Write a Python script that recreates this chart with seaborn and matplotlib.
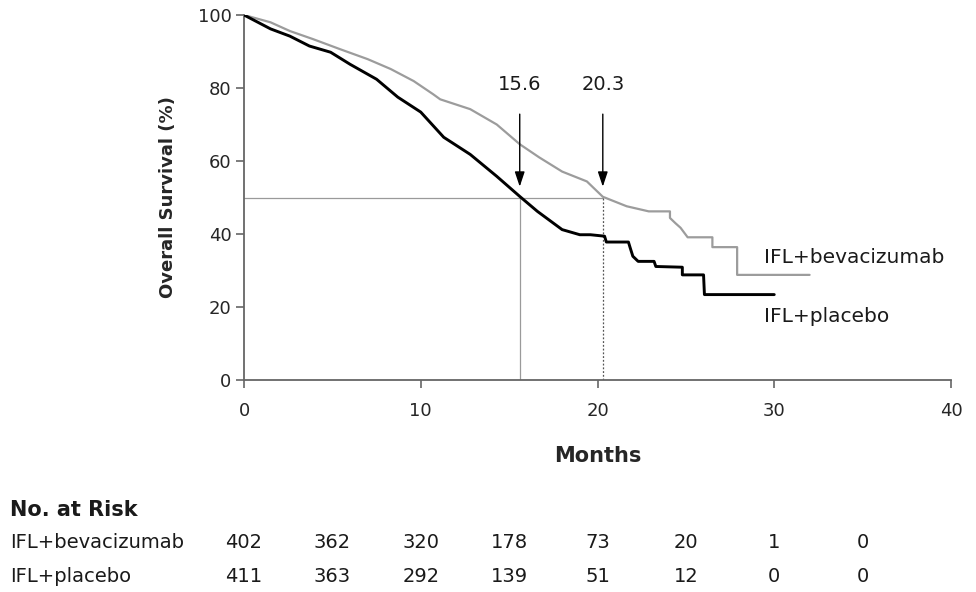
import matplotlib
matplotlib.use("Agg")
import matplotlib.pyplot as plt
import matplotlib.transforms as mtransforms
import seaborn as sns
import pandas as pd

# Kaplan-Meier estimates (repeated x = vertical step)
months_bev = [0, 1.5, 2.6, 3.9, 5.4, 7.0, 8.3, 9.6, 10.7, 11.1, 12.8, 14.3, 15.6,
              16.7, 18.0, 19.4, 20.3, 21.65, 22.9, 24.1, 24.1, 24.4, 24.7, 25.1,
              26.5, 26.5, 27.9, 27.9, 32.0]
surv_bev = [100, 98.0, 95.6, 93.4, 90.7, 87.9, 85.2, 81.9, 78.3, 76.9, 74.2, 70.0,
            64.6, 61.0, 57.1, 54.4, 50.2, 47.6, 46.2, 46.2, 44.4, 43.0, 41.7, 39.1,
            39.1, 36.4, 36.4, 28.8, 28.8]

months_pla = [0, 1.5, 2.6, 3.7, 4.9, 6.0, 7.5, 8.7, 10.0, 11.3, 12.8, 14.3, 15.6,
              16.6, 18.0, 19.0, 19.6, 20.4, 20.5, 21.75, 21.85, 22.0, 22.3, 23.2,
              23.3, 24.8, 24.8, 26.0, 26.05, 30.0]
surv_pla = [100, 96.2, 94.2, 91.5, 89.8, 86.5, 82.4, 77.5, 73.4, 66.5, 61.8, 55.8,
            50.3, 46.2, 41.2, 39.8, 39.8, 39.4, 37.8, 37.8, 36.2, 33.9, 32.5, 32.5,
            31.1, 30.9, 28.8, 28.8, 23.4, 23.4]

median_bev = 20.3
median_pla = 15.6

risk_months = [0, 5, 10, 15, 20, 25, 30, 35]
risk_bev = [402, 362, 320, 178, 73, 20, 1, 0]
risk_pla = [411, 363, 292, 139, 51, 12, 0, 0]

group_names = ["IFL+bevacizumab", "IFL+placebo"]

sns.set_style("ticks")
plt.rcParams["font.family"] = ["DejaVu Sans"]
plt.rcParams["text.color"] = "#1a1a1a"

fig = plt.figure(figsize=(9.76, 5.92), dpi=100)
ax = fig.add_axes([244 / 976, 1 - 380 / 592, (951 - 244) / 976, (380 - 15) / 592])

df_bev = pd.DataFrame({"Months": months_bev, "Survival": surv_bev})
df_pla = pd.DataFrame({"Months": months_pla, "Survival": surv_pla})

# reference lines for the medians
ax.plot([0, median_bev], [50, 50], color="#9a9a9a", lw=0.9, zorder=1)
ax.plot([median_pla, median_pla], [0, 50], color="#9a9a9a", lw=0.9, zorder=1)
ax.plot([median_bev, median_bev], [0, 50], color="#555555", lw=0.9,
        linestyle=(0, (1.5, 1.5)), zorder=1)

sns.lineplot(data=df_bev, x="Months", y="Survival", estimator=None, sort=False,
             color="#9c9c9c", lw=1.6, ax=ax, zorder=3)
sns.lineplot(data=df_pla, x="Months", y="Survival", estimator=None, sort=False,
             color="black", lw=2.1, ax=ax, zorder=4)

# median arrows
for m in [median_pla, median_bev]:
    ax.annotate("", xy=(m, 52.2), xytext=(m, 73.6),
                arrowprops=dict(arrowstyle="-|>,head_length=0.9,head_width=0.3",
                                color="black", lw=1.0))
    ax.text(m, 81, f"{m:.1f}", ha="center", va="center", fontsize=14)

ax.text(29.4, 33.5, group_names[0], ha="left", va="center", fontsize=14.5)
ax.text(29.4, 17.3, group_names[1], ha="left", va="center", fontsize=14.5)

ax.set_xlim(0, 40)
ax.set_ylim(0, 100)
ax.set_xticks([0, 10, 20, 30, 40])
ax.set_yticks([0, 20, 40, 60, 80, 100])
ax.tick_params(axis="both", labelsize=13, length=6, width=1.2, color="#666666")
ax.tick_params(axis="x", pad=10)
ax.tick_params(axis="y", pad=3)
for side in ["left", "bottom"]:
    ax.spines[side].set_color("#666666")
    ax.spines[side].set_linewidth(1.3)
sns.despine(ax=ax)
ax.margins(0)

ax.set_xlabel("Months", fontsize=15, fontweight="bold")
ax.set_ylabel("Overall Survival (%)", fontsize=13, fontweight="bold")
ax.xaxis.set_label_coords(0.5, -0.18)
ax.yaxis.set_label_coords(-0.095, 0.5)

# number at risk table
fig.text(10 / 976, 1 - 510 / 592, "No. at Risk", fontsize=15, fontweight="bold",
         ha="left", va="center")
trans = mtransforms.blended_transform_factory(ax.transData, fig.transFigure)
rows = [(group_names[0], risk_bev, 543), (group_names[1], risk_pla, 577)]
for name, counts, py in rows:
    fig.text(10 / 976, 1 - py / 592, name, fontsize=14, ha="left", va="center")
    for m, n in zip(risk_months, counts):
        ax.text(m, 1 - py / 592, str(n), transform=trans, fontsize=14,
                ha="center", va="center", clip_on=False)

fig.savefig("out.png", dpi=100)
